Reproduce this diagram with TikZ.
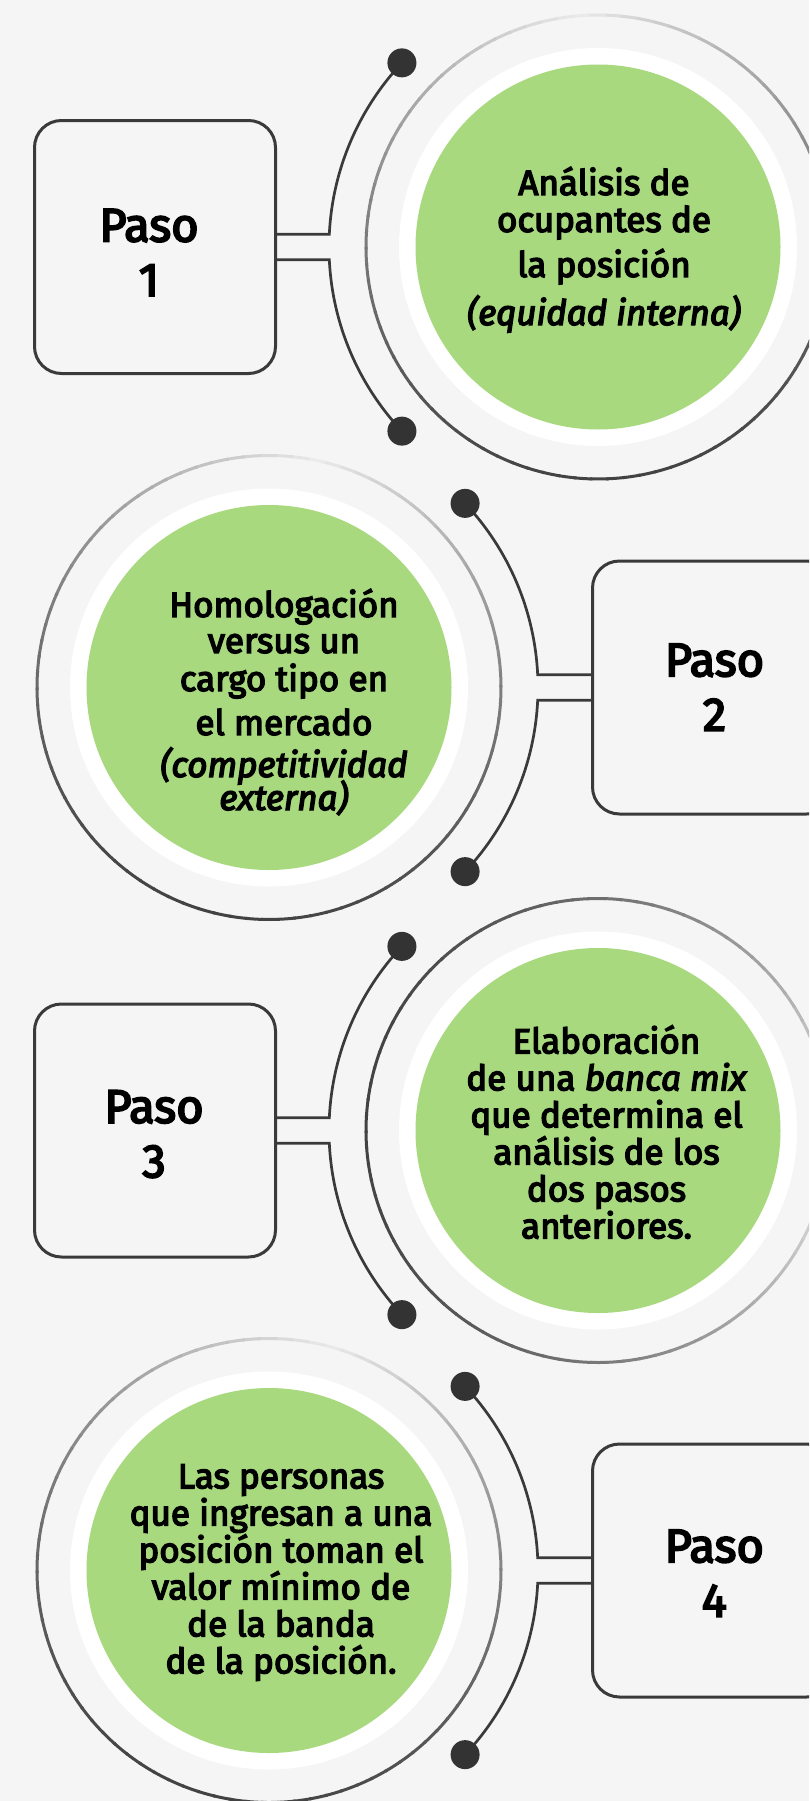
\documentclass[tikz,border=0pt]{standalone}
\usepackage{fontspec}
\setmainfont{Fira Sans}[UprightFeatures={FakeBold=4}, ItalicFeatures={FakeBold=4}]
\usepackage{xcolor}
\usepackage{tikz}
\usetikzlibrary{positioning}
\definecolor{pageBg}{HTML}{F5F5F5}
\definecolor{stepGreen}{HTML}{A8D97F}
\definecolor{lineDark}{HTML}{3A3A3A}
\definecolor{dotDark}{HTML}{333333}

% outer ring: grey stroke, lightest towards angle #2
\newcommand{\fadeRing}[2]{%
  \foreach \a in {0,4,...,356}{%
    \pgfmathsetmacro{\ringShade}{8+66*sqrt((1-cos(\a+2-#2))/2)}%
    \draw[line width=3pt, black!\ringShade] ([shift={(\a:232)}]#1) arc[start angle=\a, end angle=\a+4.6, radius=232];
  }}

\begin{document}
\begin{tikzpicture}[x=1pt, y=1pt,
    every node/.style={text=black},
    stepbox/.style={rectangle, rounded corners=27pt, draw=lineDark, line width=3pt, fill=pageBg,
                    minimum width=241pt, minimum height=253pt},
    steplbl/.style={font=\fontsize{47}{54.5}\selectfont, align=center, anchor=base},
    halo/.style={circle, fill=white, minimum size=398pt, inner sep=0pt},
    disc/.style={circle, fill=stepGreen, minimum size=365pt, inner sep=0pt},
    bodytxt/.style={font=\fontsize{35}{37}\selectfont, align=center, anchor=base},
    wire/.style={draw=lineDark, line width=2.7pt},
    knob/.style={circle, fill=dotDark, minimum size=29pt, inner sep=0pt},
  ]
  \useasboundingbox (0,0) rectangle (809,-1801);
  \fill[pageBg] (0,0) rectangle (809,-1801);
  \clip (0,0) rectangle (809,-1801);

  % paso 1
  \coordinate (c1) at (598,-247);
  \fadeRing{c1}{95}
  \node[halo] (h1) at (c1) {};
  \node[disc] (g1) at (c1) {};
  \node[bodytxt] (t1) at (604,-325) {Análisis de\\ocupantes de\\[8pt]la posición\\[10pt]\textit{(equidad interna)}};
  \node[stepbox] (s1) at (155,-247) {};
  \node[steplbl] (p1) at (149,-296) {Paso\\1};
  \coordinate (k1a) at ([shift={(136.8:269)}]c1);
  \coordinate (k1b) at ([shift={(223.2:269)}]c1);
  \draw[wire] (k1a) arc[start angle=136.8, end angle=177.27, radius=269] -- ([yshift=12.8pt]s1.east);
  \draw[wire] (k1b) arc[start angle=223.2, end angle=182.73, radius=269] -- ([yshift=-12.8pt]s1.east);
  \node[knob] at (k1a) {};
  \node[knob] at (k1b) {};

  % paso 2
  \coordinate (c2) at (269,-687.5);
  \fadeRing{c2}{78}
  \node[halo] (h2) at (c2) {};
  \node[disc] (g2) at (c2) {};
  \node[bodytxt] (t2) at (284,-810) {Homologación\\[-1pt]versus un\\[1pt]cargo tipo en\\[7pt]el mercado\\[5pt]\textit{(competitividad}\\[-5pt]\textit{externa)}};
  \node[stepbox] (s2) at (713,-687.5) {};
  \node[steplbl] (p2) at (714.5,-730.7) {Paso\\2};
  \coordinate (k2a) at ([shift={(43.2:269)}]c2);
  \coordinate (k2b) at ([shift={(-43.2:269)}]c2);
  \draw[wire] (k2a) arc[start angle=43.2, end angle=2.73, radius=269] -- ([yshift=12.8pt]s2.west);
  \draw[wire] (k2b) arc[start angle=-43.2, end angle=-2.73, radius=269] -- ([yshift=-12.8pt]s2.west);
  \node[knob] at (k2a) {};
  \node[knob] at (k2b) {};

  % paso 3
  \coordinate (c3) at (598,-1130.5);
  \fadeRing{c3}{-5}
  \node[halo] (h3) at (c3) {};
  \node[disc] (g3) at (c3) {};
  \node[bodytxt] (t3) at (606.5,-1238.3) {Elaboración\\de una \textit{banca mix}\\que determina el\\análisis de los\\dos pasos\\anteriores.};
  \node[stepbox] (s3) at (155,-1130.5) {};
  \node[steplbl] (p3) at (154,-1177.3) {Paso\\3};
  \coordinate (k3a) at ([shift={(136.8:269)}]c3);
  \coordinate (k3b) at ([shift={(223.2:269)}]c3);
  \draw[wire] (k3a) arc[start angle=136.8, end angle=177.27, radius=269] -- ([yshift=12.8pt]s3.east);
  \draw[wire] (k3b) arc[start angle=223.2, end angle=182.73, radius=269] -- ([yshift=-12.8pt]s3.east);
  \node[knob] at (k3a) {};
  \node[knob] at (k3b) {};

  % paso 4
  \coordinate (c4) at (269,-1570.5);
  \fadeRing{c4}{75}
  \node[halo] (h4) at (c4) {};
  \node[disc] (g4) at (c4) {};
  \node[bodytxt] (t4) at (281,-1673.3) {Las personas\\que ingresan a una\\posición toman el\\valor mínimo de\\de la banda\\de la posición.};
  \node[stepbox] (s4) at (713,-1570.5) {};
  \node[steplbl] (p4) at (714.3,-1616.7) {Paso\\4};
  \coordinate (k4a) at ([shift={(43.2:269)}]c4);
  \coordinate (k4b) at ([shift={(-43.2:269)}]c4);
  \draw[wire] (k4a) arc[start angle=43.2, end angle=2.73, radius=269] -- ([yshift=12.8pt]s4.west);
  \draw[wire] (k4b) arc[start angle=-43.2, end angle=-2.73, radius=269] -- ([yshift=-12.8pt]s4.west);
  \node[knob] at (k4a) {};
  \node[knob] at (k4b) {};
\end{tikzpicture}
\end{document}
